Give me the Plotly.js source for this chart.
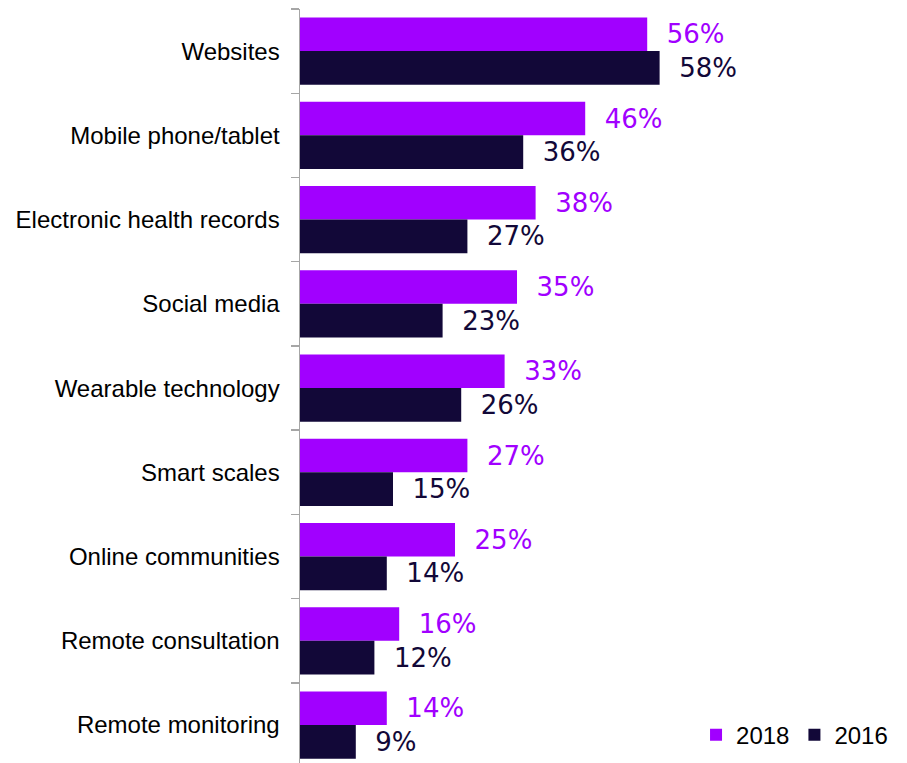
<!DOCTYPE html>
<html>
<head>
<meta charset="utf-8">
<script src="https://cdn.plot.ly/plotly-3.0.1.min.js"></script>
<style>html,body{margin:0;padding:0;background:#fff;}#chart{width:907px;height:763px;}</style>
</head>
<body>
<div id="chart"></div>
<script>
const categories = ["Websites", "Mobile phone/tablet", "Electronic health records", "Social media", "Wearable technology", "Smart scales", "Online communities", "Remote consultation", "Remote monitoring"];
const values2018 = [56, 46, 38, 35, 33, 27, 25, 16, 14];
const values2016 = [58, 36, 27, 23, 26, 15, 14, 12, 9];
const seriesNames = ["2018", "2016"];

const purple = "#A100FF";
const navy = "#120838";

const common = {
  type: "bar",
  orientation: "h",
  y: categories,
  texttemplate: "\u00a0\u00a0%{x}%",
  textposition: "outside",
  cliponaxis: false,
  constraintext: "none",
  hoverinfo: "skip"
};

const traces = [
  Object.assign({}, common, {
    name: seriesNames[0], x: values2018,
    marker: {color: purple, line: {width: 0}},
    textfont: {family: "DejaVu Sans", size: 26, color: purple}
  }),
  Object.assign({}, common, {
    name: seriesNames[1], x: values2016,
    marker: {color: navy, line: {width: 0}},
    textfont: {family: "DejaVu Sans", size: 26, color: navy}
  })
];

const layout = {
  width: 907, height: 763,
  margin: {l: 300, r: 0, t: 9, b: 0, pad: 0},
  paper_bgcolor: "#fff", plot_bgcolor: "#fff",
  barmode: "group",
  bargap: 0.2,
  bargroupgap: 0,
  showlegend: true,
  legend: {
    orientation: "h",
    x: 0.977, xanchor: "right",
    y: 0.037, yanchor: "middle",
    font: {family: "Liberation Sans, Arial, sans-serif", size: 24, color: "#000"},
    itemwidth: 30,
    bgcolor: "rgba(0,0,0,0)",
    traceorder: "normal"
  },
  xaxis: {
    visible: false,
    range: [0, 97.9],
    fixedrange: true
  },
  yaxis: {
    type: "category",
    range: [8.45, -0.5],
    showline: true,
    linecolor: "#A6A6A6",
    linewidth: 1.5,
    ticks: "outside",
    tickson: "boundaries",
    ticklen: 8,
    tickwidth: 1.5,
    tickcolor: "#A6A6A6",
    showgrid: false,
    zeroline: false,
    ticklabelstandoff: 14,
    tickfont: {family: "Liberation Sans, Arial, sans-serif", size: 24, color: "#000"}
  }
};

Plotly.newPlot("chart", traces, layout, {displayModeBar: false, staticPlot: true});
</script>
</body>
</html>
